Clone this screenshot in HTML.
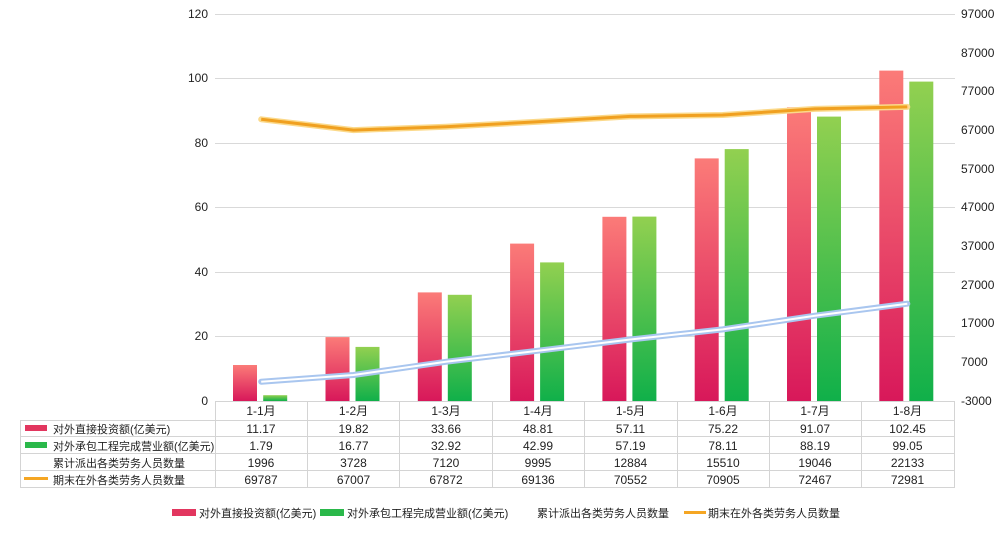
<!DOCTYPE html>
<html><head><meta charset="utf-8"><style>
body{margin:0;background:#fff;}
svg{display:block;font-family:"Liberation Sans","Noto Sans CJK SC",sans-serif;}
</style></head><body>
<svg width="1000" height="538" viewBox="0 0 1000 538" xmlns="http://www.w3.org/2000/svg">
<defs>
<linearGradient id="r" x1="0" y1="0" x2="0" y2="1"><stop offset="0" stop-color="#fb7b78"/><stop offset="1" stop-color="#d8185a"/></linearGradient>
<linearGradient id="g" x1="0" y1="0" x2="0" y2="1"><stop offset="0" stop-color="#92d050"/><stop offset="1" stop-color="#10b04a"/></linearGradient>
</defs>
<g stroke="#d9d9d9" stroke-width="1">
<line x1="215" x2="955" y1="14.5" y2="14.5"/><line x1="215" x2="955" y1="78.5" y2="78.5"/>
<line x1="215" x2="955" y1="143.5" y2="143.5"/><line x1="215" x2="955" y1="207.5" y2="207.5"/>
<line x1="215" x2="955" y1="272.5" y2="272.5"/><line x1="215" x2="955" y1="336.5" y2="336.5"/>
</g>
<g font-size="12" fill="#222" text-anchor="end">
<text x="208" y="18">120</text><text x="208" y="82">100</text><text x="208" y="147">80</text>
<text x="208" y="211">60</text><text x="208" y="276">40</text><text x="208" y="340">20</text><text x="208" y="405">0</text>
</g>
<g font-size="12" fill="#222">
<text x="961" y="18">97000</text><text x="961" y="57">87000</text><text x="961" y="95">77000</text>
<text x="961" y="134">67000</text><text x="961" y="173">57000</text><text x="961" y="211">47000</text>
<text x="961" y="250">37000</text><text x="961" y="289">27000</text><text x="961" y="327">17000</text>
<text x="961" y="366">7000</text><text x="961" y="405">-3000</text>
</g>
<g fill="url(#r)">
<rect x="233" y="365" width="24" height="36"/><rect x="325.5" y="337.1" width="24" height="63.9"/>
<rect x="417.8" y="292.4" width="24" height="108.6"/><rect x="510.1" y="243.6" width="24" height="157.4"/>
<rect x="602.4" y="216.8" width="24" height="184.2"/><rect x="694.7" y="158.4" width="24" height="242.6"/>
<rect x="787" y="107.3" width="24" height="293.7"/><rect x="879.3" y="70.6" width="24" height="330.4"/>
</g>
<g fill="url(#g)">
<rect x="263.2" y="395.2" width="24" height="5.8"/><rect x="355.5" y="346.9" width="24" height="54.1"/>
<rect x="447.8" y="294.8" width="24" height="106.2"/><rect x="540.1" y="262.4" width="24" height="138.6"/>
<rect x="632.4" y="216.6" width="24" height="184.4"/><rect x="724.7" y="149.1" width="24" height="251.9"/>
<rect x="817" y="116.6" width="24" height="284.4"/><rect x="909.3" y="81.6" width="24" height="319.4"/>
</g>
<polyline points="261.2,381.7 353.5,375 445.8,361.8 538.1,350.7 630.4,339.5 722.7,329.4 815,315.7 907.3,303.7" fill="none" stroke="#a9c6ef" stroke-width="6" stroke-linejoin="round" stroke-linecap="round"/>
<polyline points="261.2,381.7 353.5,375 445.8,361.8 538.1,350.7 630.4,339.5 722.7,329.4 815,315.7 907.3,303.7" fill="none" stroke="#fff" stroke-width="2" stroke-linejoin="round"/>
<polyline points="261.2,119.3 353.5,130.1 445.8,126.7 538.1,121.8 630.4,116.4 722.7,115 815,108.9 907.3,106.9" fill="none" stroke="#fbd98a" stroke-width="6" stroke-linejoin="round" stroke-linecap="round"/>
<polyline points="261.2,119.3 353.5,130.1 445.8,126.7 538.1,121.8 630.4,116.4 722.7,115 815,108.9 907.3,106.9" fill="none" stroke="#f0a020" stroke-width="3" stroke-linejoin="round"/>
<g stroke="#d4d4d4" stroke-width="1" fill="none">
<line x1="215" x2="955" y1="401.5" y2="401.5"/>
<line x1="20" x2="955" y1="420.5" y2="420.5"/><line x1="20" x2="955" y1="436.5" y2="436.5"/>
<line x1="20" x2="955" y1="453.5" y2="453.5"/><line x1="20" x2="955" y1="470.5" y2="470.5"/>
<line x1="20" x2="955" y1="487.5" y2="487.5"/>
<line x1="20.5" x2="20.5" y1="420" y2="487"/>
<line x1="215.5" x2="215.5" y1="401" y2="487"/><line x1="307.5" x2="307.5" y1="401" y2="487"/>
<line x1="399.5" x2="399.5" y1="401" y2="487"/><line x1="492.5" x2="492.5" y1="401" y2="487"/>
<line x1="584.5" x2="584.5" y1="401" y2="487"/><line x1="677.5" x2="677.5" y1="401" y2="487"/>
<line x1="769.5" x2="769.5" y1="401" y2="487"/><line x1="861.5" x2="861.5" y1="401" y2="487"/>
<line x1="954.5" x2="954.5" y1="401" y2="487"/>
</g>
<rect x="25" y="425" width="22" height="6" fill="#e2365f"/>
<rect x="25" y="442" width="22" height="6" fill="#2ab84a"/>
<rect x="24" y="477" width="24" height="3" fill="#f5a623"/>
<g font-size="11" fill="#222">
<text x="53" y="433">对外直接投资额(亿美元)</text>
<text x="53" y="450">对外承包工程完成营业额(亿美元)</text>
<text x="53" y="467">累计派出各类劳务人员数量</text>
<text x="53" y="484">期末在外各类劳务人员数量</text>
</g>
<g font-size="12" fill="#222" text-anchor="middle">
<text x="261" y="415">1-1月</text><text x="353.5" y="415">1-2月</text><text x="446" y="415">1-3月</text><text x="538" y="415">1-4月</text>
<text x="630.5" y="415">1-5月</text><text x="723" y="415">1-6月</text><text x="815" y="415">1-7月</text><text x="907.5" y="415">1-8月</text>
<text x="261" y="433">11.17</text><text x="353.5" y="433">19.82</text><text x="446" y="433">33.66</text><text x="538" y="433">48.81</text>
<text x="630.5" y="433">57.11</text><text x="723" y="433">75.22</text><text x="815" y="433">91.07</text><text x="907.5" y="433">102.45</text>
<text x="261" y="450">1.79</text><text x="353.5" y="450">16.77</text><text x="446" y="450">32.92</text><text x="538" y="450">42.99</text>
<text x="630.5" y="450">57.19</text><text x="723" y="450">78.11</text><text x="815" y="450">88.19</text><text x="907.5" y="450">99.05</text>
<text x="261" y="467">1996</text><text x="353.5" y="467">3728</text><text x="446" y="467">7120</text><text x="538" y="467">9995</text>
<text x="630.5" y="467">12884</text><text x="723" y="467">15510</text><text x="815" y="467">19046</text><text x="907.5" y="467">22133</text>
<text x="261" y="484">69787</text><text x="353.5" y="484">67007</text><text x="446" y="484">67872</text><text x="538" y="484">69136</text>
<text x="630.5" y="484">70552</text><text x="723" y="484">70905</text><text x="815" y="484">72467</text><text x="907.5" y="484">72981</text>
</g>
<rect x="172" y="509" width="24" height="7" fill="#e2365f"/>
<rect x="320" y="509" width="24" height="7" fill="#2ab84a"/>
<rect x="684" y="511" width="22" height="3" fill="#f5a623"/>
<g font-size="11" fill="#222">
<text x="199" y="517">对外直接投资额(亿美元)</text>
<text x="347" y="517">对外承包工程完成营业额(亿美元)</text>
<text x="537" y="517">累计派出各类劳务人员数量</text>
<text x="708" y="517">期末在外各类劳务人员数量</text>
</g>
</svg>
</body></html>
